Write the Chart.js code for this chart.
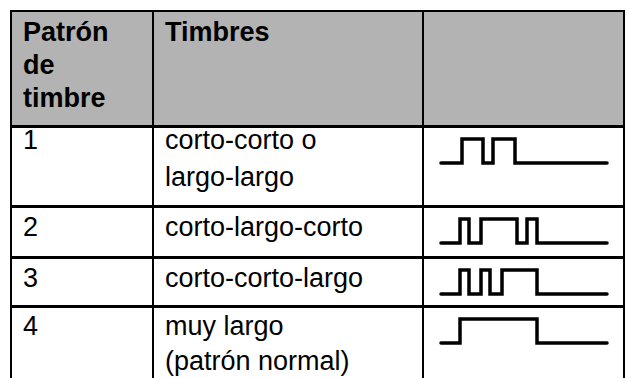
<!DOCTYPE html>
<html>
<head>
<meta charset="utf-8">
<script src="https://cdn.jsdelivr.net/npm/chart.js@4.4.1/dist/chart.umd.min.js"></script>
<style>
  html, body { margin: 0; padding: 0; background: #fff; }
  body { width: 626px; height: 378px; overflow: hidden; position: relative; }
  table {
    position: absolute; left: 10px; top: 10px;
    border-collapse: collapse; table-layout: fixed;
    font-family: "Liberation Sans", Arial, sans-serif; font-size: 27px; line-height: 33px;
    color: #000;
  }
  td, th {
    border-left: 2px solid #000; border-right: 2px solid #000;
    border-top: 3px solid #000; border-bottom: 3px solid #000;
    vertical-align: top; padding: 3px 11px 0 11px; white-space: nowrap; text-align: left;
  }
  thead th { background: #b3b3b3; font-weight: bold; border-top-width: 2px; padding-top: 4px; }
  td .txt { position: relative; }
  td.wave { padding: 0; }
  td.wave canvas { display: block; margin: 3px 0 0 9px; }
</style>
</head>
<body>
<table id="tbl">
  <colgroup><col style="width:142px"><col style="width:270px"><col style="width:201px"></colgroup>
  <thead><tr id="head" style="height:115px"></tr></thead>
  <tbody id="rows"></tbody>
</table>
<script>
const headerLabels = [['Patrón', 'de', 'timbre'], ['Timbres'], []];
const patternLabels = ['1', '2', '3', '4'];
const ringLabels = [['corto-corto o', 'largo-largo'], ['corto-largo-corto'], ['corto-corto-largo'], ['muy largo', '(patrón normal)']];
const rowHeights = [80, 51, 49, 80];
const rowLineHeights = [37, 33, 33, 35];
const rowShift = [-9, 0, 0, -2];

// ring timing: time of each edge and level after it
const ring1Times = [0, 21, 42, 52, 74, 166];
const ring1Levels = [0, 1, 0, 1, 0, 0];
const ring2Times = [0, 19, 28, 40, 76, 86, 96, 166];
const ring2Levels = [0, 1, 0, 1, 0, 1, 0, 0];
const ring3Times = [0, 19, 28, 40, 49, 61, 96, 166];
const ring3Levels = [0, 1, 0, 1, 0, 1, 0, 0];
const ring4Times = [0, 19, 96, 166];
const ring4Levels = [0, 1, 0, 0];

const ringTimes = [ring1Times, ring2Times, ring3Times, ring4Times];
const ringLevels = [ring1Levels, ring2Levels, ring3Levels, ring4Levels];

const head = document.getElementById('head');
headerLabels.forEach(lines => {
  const th = document.createElement('th');
  th.innerHTML = lines.join('<br>');
  head.appendChild(th);
});

const rows = document.getElementById('rows');
patternLabels.forEach((p, i) => {
  const tr = document.createElement('tr');
  tr.style.height = rowHeights[i] + 'px';
  tr.style.lineHeight = rowLineHeights[i] + 'px';
  const c1 = document.createElement('td');
  c1.innerHTML = '<div class="txt" style="top:' + rowShift[i] + 'px">' + p + '</div>';
  const c2 = document.createElement('td');
  c2.innerHTML = '<div class="txt" style="top:' + rowShift[i] + 'px">' + ringLabels[i].join('<br>') + '</div>';
  const c3 = document.createElement('td');
  c3.className = 'wave';
  const cv = document.createElement('canvas');
  cv.width = 182;
  cv.height = 40;
  c3.appendChild(cv);
  tr.append(c1, c2, c3);
  rows.appendChild(tr);

  new Chart(cv.getContext('2d'), {
    type: 'line',
    data: {
      datasets: [{
        data: ringTimes[i].map((t, k) => ({ x: t, y: ringLevels[i][k] })),
        stepped: true,
        borderColor: '#000',
        borderWidth: 3.5,
        borderCapStyle: 'round',
        borderJoinStyle: 'miter',
        pointRadius: 0,
        clip: false
      }]
    },
    options: {
      responsive: false,
      animation: false,
      events: [],
      layout: { padding: { left: 8, right: 8, top: 8, bottom: 8 } },
      scales: {
        x: { type: 'linear', display: false, min: 0, max: 166 },
        y: { display: false, min: 0, max: 1 }
      },
      plugins: { legend: { display: false }, tooltip: { enabled: false } }
    }
  });
});
</script>
</body>
</html>
